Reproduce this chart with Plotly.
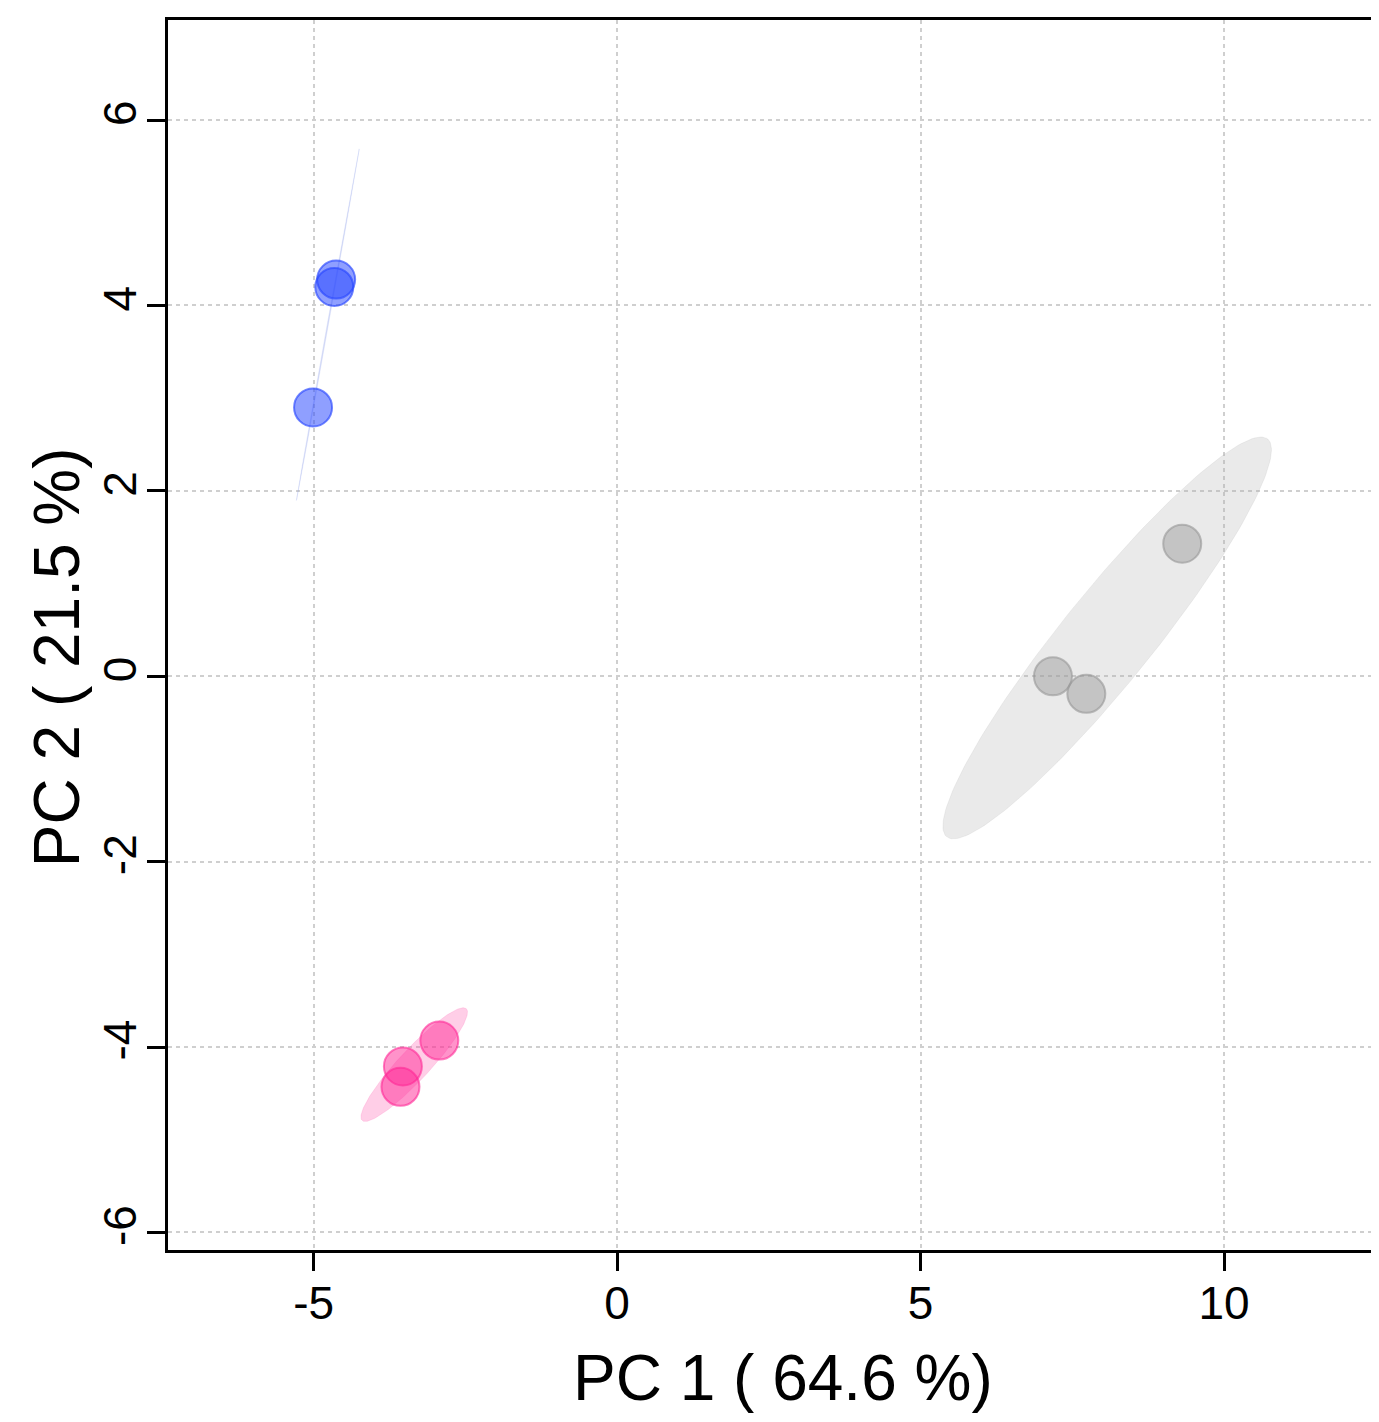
import numpy as np
import plotly.graph_objects as go

# data
groups = ["blue", "pink", "gray"]
pc1_blue = [-4.63, -4.66, -5.01]
pc2_blue = [4.28, 4.20, 2.90]
pc1_pink = [-2.93, -3.53, -3.57]
pc2_pink = [-3.93, -4.21, -4.43]
pc1_gray = [9.31, 7.18, 7.73]
pc2_gray = [1.43, 0.00, -0.19]
x_ticks = [-5, 0, 5, 10]
y_ticks = [-6, -4, -2, 0, 2, 4, 6]
x_title = "PC 1 ( 64.6 %)"
y_title = "PC 2 ( 21.5 %)"

styles = {
    "blue": dict(fill="rgba(40,70,255,0.52)", line="rgba(40,70,255,0.65)", ell="rgba(120,140,230,0.25)"),
    "pink": dict(fill="rgba(255,40,150,0.50)", line="rgba(255,40,150,0.60)", ell="rgba(255,60,160,0.25)"),
    "gray": dict(fill="rgba(150,150,150,0.45)", line="rgba(150,150,150,0.60)", ell="rgba(170,170,170,0.25)"),
}
data = {
    "blue": (pc1_blue, pc2_blue),
    "pink": (pc1_pink, pc2_pink),
    "gray": (pc1_gray, pc2_gray),
}


def ellipse(xs, ys, n=200, chi=5.991):
    pts = np.column_stack([xs, ys])
    mu = pts.mean(axis=0)
    cov = np.cov(pts, rowvar=False)
    vals, vecs = np.linalg.eigh(cov)
    vals = np.clip(vals, 1e-6, None)
    t = np.linspace(0, 2 * np.pi, n)
    circ = np.vstack([np.cos(t), np.sin(t)])
    e = vecs @ (np.sqrt(vals * chi)[:, None] * circ)
    return e[0] + mu[0], e[1] + mu[1]


fig = go.Figure()
for g in groups:
    xs, ys = data[g]
    ex, ey = ellipse(xs, ys)
    fig.add_trace(go.Scatter(x=ex, y=ey, mode="lines", fill="toself",
                             fillcolor=styles[g]["ell"], line=dict(width=0.6, color=styles[g]["ell"]),
                             hoverinfo="skip", showlegend=False))
for g in groups:
    xs, ys = data[g]
    fig.add_trace(go.Scatter(x=xs, y=ys, mode="markers", showlegend=False,
                             marker=dict(size=38, color=styles[g]["fill"],
                                         line=dict(width=2, color=styles[g]["line"]))))

font = "Liberation Sans, Arial, sans-serif"
fig.update_layout(
    width=1363, height=1406,
    margin=dict(l=160, r=0, t=12, b=164),
    plot_bgcolor="white", paper_bgcolor="white",
    font=dict(family=font, color="black"),
)
fig.update_xaxes(
    range=[-7.4, 12.42], tickvals=x_ticks, ticktext=[str(v) for v in x_ticks],
    showline=True, linecolor="black", linewidth=3, mirror=True,
    ticks="outside", ticklen=18, tickwidth=3, tickcolor="black",
    tickfont=dict(size=46, family=font), ticklabelstandoff=-7,
    showgrid=True, gridcolor="#cfcfcf", griddash="4px,4px", gridwidth=2,
    zeroline=False,
)
fig.update_yaxes(
    range=[-6.19, 7.08], tickvals=y_ticks, ticktext=[str(v) for v in y_ticks],
    showline=True, linecolor="black", linewidth=3, mirror=False,
    ticks="outside", ticklen=18, tickwidth=3, tickcolor="black",
    tickfont=dict(size=46, family=font), tickangle=-90, ticklabelstandoff=-7,
    showgrid=True, gridcolor="#cfcfcf", griddash="4px,4px", gridwidth=2,
    zeroline=False,
)
fig.add_annotation(text=x_title, xref="paper", yref="paper", x=0.511, y=0,
                   xanchor="center", yanchor="middle", yshift=-128, showarrow=False,
                   font=dict(size=64, family=font, color="black"))
fig.add_annotation(text=y_title, xref="paper", yref="paper", x=0, y=0.482,
                   xanchor="center", yanchor="middle", xshift=-111, showarrow=False,
                   textangle=-90, font=dict(size=64, family=font, color="black"))
fig.write_html("out.html")
